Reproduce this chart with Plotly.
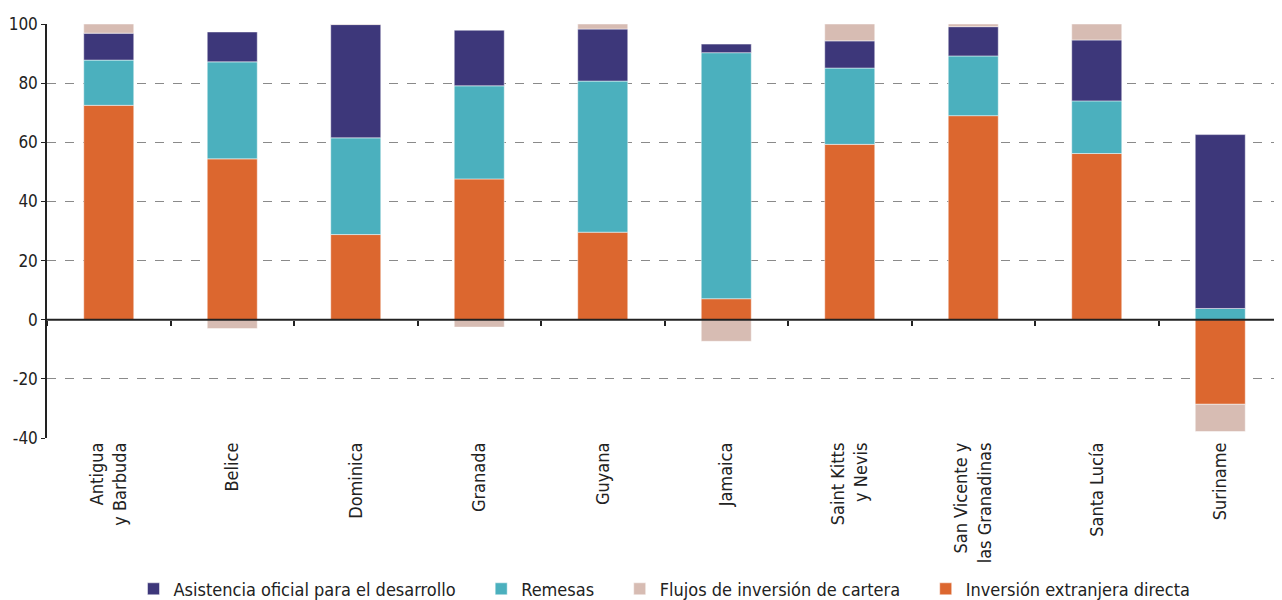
import plotly.graph_objects as go

paises = ["Antigua<br>y Barbuda", "Belice", "Dominica", "Granada", "Guyana", "Jamaica",
          "Saint Kitts<br>y Nevis", "San Vicente y<br>las Granadinas", "Santa Lucía", "Suriname"]

# porcentajes (lectura aproximada del gráfico)
ied = [72.5, 54.4, 28.8, 47.6, 29.6, 7.1, 59.3, 69.0, 56.2, -28.6]
remesas = [15.3, 32.8, 32.7, 31.5, 51.1, 83.2, 25.8, 20.2, 17.8, 3.8]
aod = [9.1, 10.1, 38.3, 18.8, 17.6, 2.9, 9.2, 9.9, 20.6, 58.8]
cartera = [3.1, -3.0, 0.2, -2.5, 1.7, -7.3, 5.7, 0.9, 5.4, -9.2]

y_ticks = [-40, -20, 0, 20, 40, 60, 80, 100]
y_labels = ["-40", "-20", "0", "20", "40", "60", "80", "100"]

colores = {
    "aod": "#3d377a",
    "rem": "#4bb0be",
    "car": "#d7bcb3",
    "ied": "#dc672f",
}

fuente = "Liberation Sans Narrow, DejaVu Sans Condensed, Roboto, sans-serif"
borde = dict(color="rgba(255,255,255,0.6)", width=0.8)
esp = "\u00a0" * 4  # separación extra en la leyenda

fig = go.Figure()
# orden de apilado: IED abajo, luego remesas, AOD y cartera
fig.add_trace(go.Bar(x=paises, y=ied, name="Inversión extranjera directa",
                     marker=dict(color=colores["ied"], line=borde), legendrank=4))
fig.add_trace(go.Bar(x=paises, y=remesas, name="Remesas" + esp,
                     marker=dict(color=colores["rem"], line=borde), legendrank=2))
fig.add_trace(go.Bar(x=paises, y=aod, name="Asistencia oficial para el desarrollo" + esp,
                     marker=dict(color=colores["aod"], line=borde), legendrank=1))
fig.add_trace(go.Bar(x=paises, y=cartera, name="Flujos de inversión de cartera" + esp,
                     marker=dict(color=colores["car"], line=borde), legendrank=3))

# eje auxiliar para las marcas entre categorías sobre la línea del cero
fig.add_trace(go.Scatter(x=[-0.5, 9.5], y=[0, 0], xaxis="x2", mode="lines",
                         line=dict(color="#222", width=2), showlegend=False, hoverinfo="skip"))

fig.update_layout(
    barmode="relative",
    bargap=0.595,
    width=1274,
    height=592,
    margin=dict(l=39, r=0, t=16, b=162, autoexpand=False),
    plot_bgcolor="white",
    paper_bgcolor="white",
    font=dict(family=fuente, size=17, color="#222"),
    xaxis=dict(
        tickangle=-90,
        tickfont=dict(size=18),
        showline=False,
        ticks="",
        range=[-0.5, 9.5],
        automargin=False,
    ),
    xaxis2=dict(
        overlaying="x",
        anchor="free",
        position=40 / 140,
        range=[-0.5, 9.5],
        tickvals=[i - 0.5 for i in range(11)],
        showticklabels=False,
        ticks="outside",
        ticklen=5,
        tickcolor="#222",
        tickwidth=1.5,
        showline=False,
        showgrid=False,
        zeroline=False,
        automargin=False,
    ),
    yaxis=dict(
        range=[-40, 100],
        tickvals=y_ticks,
        ticktext=y_labels,
        showgrid=True,
        gridcolor="#8a8a8a",
        griddash="dash",
        gridwidth=1,
        zeroline=False,
        showline=True,
        linecolor="#222",
        linewidth=1.5,
        ticks="outside",
        ticklen=4,
        tickcolor="#222",
        tickfont=dict(size=17),
        automargin=False,
    ),
    legend=dict(
        orientation="h",
        x=0.5,
        xanchor="center",
        y=-0.365,
        yanchor="middle",
        font=dict(size=18),
        itemwidth=30,
        traceorder="normal",
    ),
)

fig.write_html("out.html")
